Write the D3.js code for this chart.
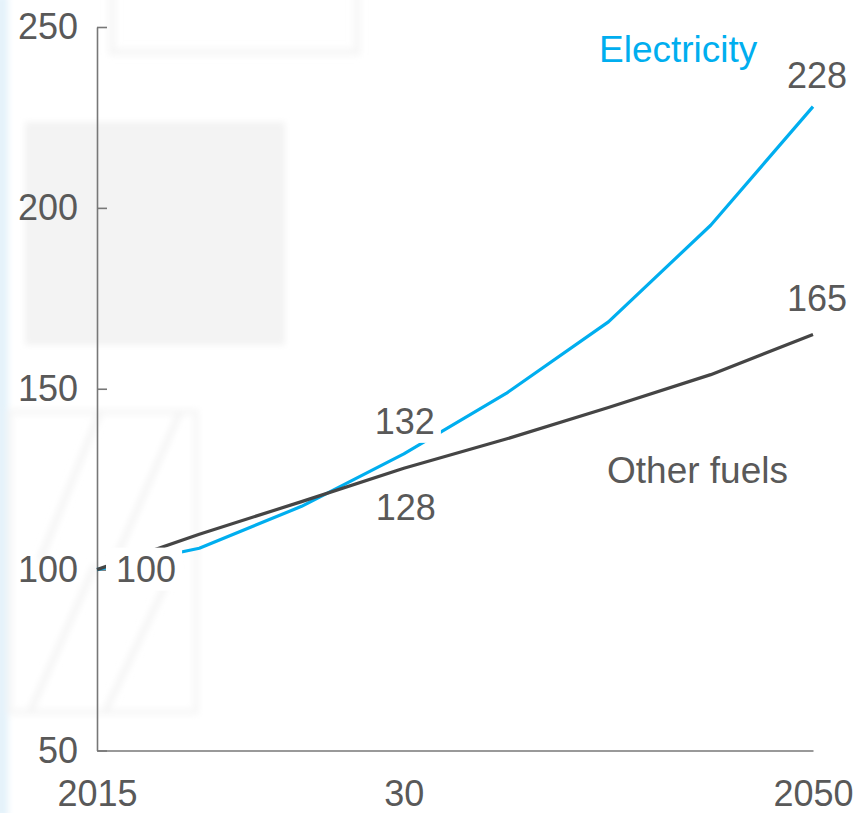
<!DOCTYPE html>
<html>
<head>
<meta charset="utf-8">
<script src="https://cdn.jsdelivr.net/npm/d3@7"></script>
<style>
  html, body { margin: 0; padding: 0; background: #ffffff; }
  svg { display: block; }
  text { font-family: "Liberation Sans", Arial, sans-serif; }
</style>
</head>
<body>
<svg id="chart" width="857" height="813"></svg>
<script>
// Index, 2015 = 100
const years       = [2015, 2020, 2025, 2030, 2035, 2040, 2045, 2050];
const electricity = [100, 105.9, 117.5, 132, 148.7, 168.5, 195.2, 228];
const otherFuels  = [100, 109.8, 118.8, 128, 136.1, 144.8, 153.9, 165];
const yTicks      = [50, 100, 150, 200, 250];
const xTicks      = [2015, 2030, 2050];
const xTickLabels = ["2015", "30", "2050"];
const seriesNames = ["Electricity", "Other fuels"];

const textGrey = "#595959";
const elecBlue = "#00aeef";
const fuelGrey = "#454545";
const axisGrey = "#777777";

const svg = d3.select("#chart");

// soft backdrop shapes
const defs = svg.append("defs");
defs.append("filter").attr("id", "soft")
  .attr("x", "-10%").attr("y", "-10%").attr("width", "120%").attr("height", "120%")
  .append("feGaussianBlur").attr("stdDeviation", 3);

const bg = svg.append("g").attr("filter", "url(#soft)");
bg.append("rect").attr("x", -5).attr("y", -5).attr("width", 13).attr("height", 823)
  .attr("fill", "#e4f2fa");
bg.append("rect").attr("x", 25).attr("y", 122).attr("width", 260).attr("height", 223)
  .attr("fill", "#f3f3f3");
bg.append("rect").attr("x", 112).attr("y", -12).attr("width", 245).attr("height", 64)
  .attr("fill", "none").attr("stroke", "#f6f6f6").attr("stroke-width", 7);
const hatch = bg.append("g");
hatch.append("rect").attr("x", 10).attr("y", 412).attr("width", 186).attr("height", 300)
  .attr("fill", "none").attr("stroke", "#f7f7f7").attr("stroke-width", 6);
[[40, 560, 100, 412], [115, 560, 180, 412], [30, 712, 95, 565], [105, 712, 175, 565]]
  .forEach(([x1, y1, x2, y2]) => hatch.append("line")
    .attr("x1", x1).attr("y1", y1).attr("x2", x2).attr("y2", y2)
    .attr("stroke", "#f4f4f4").attr("stroke-width", 6));

const x = d3.scaleLinear().domain([2015, 2050]).range([97, 813]);
const y = d3.scaleLinear().domain([50, 250]).range([750.5, 27]);

// axes
const yAxis = d3.axisLeft(y).tickValues(yTicks).tickSizeInner(-10).tickSizeOuter(0).tickPadding(19);
const gy = svg.append("g").attr("transform", `translate(${x(2015)},0)`).call(yAxis);
const xAxis = d3.axisBottom(x).tickValues(xTicks).tickSize(0).tickPadding(30)
  .tickFormat((d, i) => xTickLabels[i]);
const gx = svg.append("g").attr("transform", `translate(0,${y(50)})`).call(xAxis);

[gx, gy].forEach(g => {
  g.select(".domain").attr("stroke", axisGrey).attr("stroke-width", 1.6);
  g.selectAll(".tick line").attr("stroke", axisGrey).attr("stroke-width", 1.6);
  g.selectAll(".tick text").attr("fill", textGrey).style("font-size", "36px")
    .style("font-family", '"Liberation Sans", Arial, sans-serif');
});

// lines
const line = d3.line().x((d, i) => x(years[i])).y(d => y(d));
svg.append("path").datum(electricity).attr("d", line)
  .attr("fill", "none").attr("stroke", elecBlue).attr("stroke-width", 3.2)
  .attr("stroke-linejoin", "round");
svg.append("path").datum(otherFuels).attr("d", line)
  .attr("fill", "none").attr("stroke", fuelGrey).attr("stroke-width", 3.2)
  .attr("stroke-linejoin", "round");

// value labels (some sit on a white box over the lines)
function valueLabel(year, value, dx, dy, anchor, boxed) {
  const g = svg.append("g");
  const t = g.append("text")
    .attr("x", x(year) + dx).attr("y", y(value) + dy)
    .attr("text-anchor", anchor)
    .attr("fill", textGrey).style("font-size", "36px")
    .text(d3.format("d")(value));
  if (boxed) {
    const b = t.node().getBBox();
    g.insert("rect", "text")
      .attr("x", b.x - 10).attr("y", b.y - 1)
      .attr("width", b.width + 16).attr("height", b.height + 2)
      .attr("fill", "#ffffff");
  }
}
valueLabel(2015, electricity[0], 19, 12, "start", true);
valueLabel(2030, electricity[3], 1, -20, "middle", true);
valueLabel(2030, otherFuels[3], 2, 52, "middle", false);
valueLabel(2050, electricity[7], 4, -19, "middle", false);
valueLabel(2050, otherFuels[7], 4, -23, "middle", false);

// series names
svg.append("text").attr("x", 599).attr("y", 62)
  .attr("fill", elecBlue).style("font-size", "37px").text(seriesNames[0]);
svg.append("text").attr("x", 607).attr("y", 483)
  .attr("fill", textGrey).style("font-size", "37px").text(seriesNames[1]);
</script>
</body>
</html>
